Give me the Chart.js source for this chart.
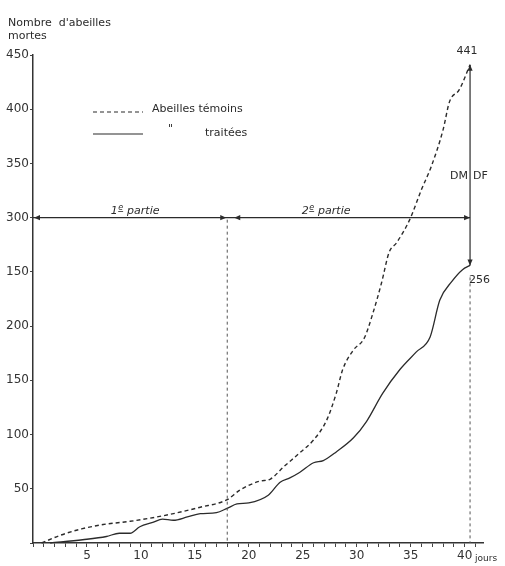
<!DOCTYPE html>
<html>
<head>
<meta charset="utf-8">
<script src="https://cdn.jsdelivr.net/npm/chart.js@4"></script>
<style>
  body { margin: 0; background: #fff; }
  canvas { display: block; }
</style>
</head>
<body>
<canvas id="chart" width="505" height="566"></canvas>
<script>
// --- données ---
const temoinsJours = [0.8, 2.5, 4.5, 6.5, 9, 12, 15.5, 18, 19.2, 21, 22, 23.2, 24.7, 26, 27.2, 28.1, 28.7, 29.7, 30.7, 31.5, 32.3, 33, 33.7, 34.9, 36, 36.9, 38, 38.6, 39.5, 40.5];
const temoinsMortes = [0, 7, 13, 17, 20, 25, 33, 40, 49, 57, 59, 70, 83, 95, 113, 138, 160, 178, 189, 212, 240, 268, 277, 298, 326, 347, 381, 407, 418, 441];

const traiteesJours = [1.6, 4.6, 6.8, 8, 9, 9.9, 11.1, 12, 13, 14.3, 15.5, 17, 18, 18.9, 20, 21.8, 22.9, 23.8, 24.7, 26, 26.9, 28.1, 29.7, 30.9, 32.4, 34, 35.5, 36.8, 37.7, 38.8, 39.8, 40.5];
const traiteesMortes = [0, 3, 6, 9, 9, 15, 19, 22, 21, 24, 27, 28, 32, 36, 37, 44, 56, 60, 65, 74, 76, 84, 97, 112, 138, 160, 176, 190, 224, 241, 252, 256];

// graduations (telles qu'imprimées, y compris le « 150 » à la place de 250)
const yTickLabels = ['', '50', '100', '150', '200', '150', '300', '350', '400', '450'];
const xLabelDays = [5, 10, 15, 20, 25, 30, 35, 40];

// repères du schéma
const partieNiveau = 300;
const partieJour = 18;
const finJour = 40.5;
const valeurTemoins = 441;
const valeurTraitees = 256;

const FONT = 'DejaVu Sans';
const INK = '#2b2b2b';

const toPoints = (xs, ys) => xs.map((x, i) => ({ x: x, y: ys[i] }));

function arrow(ctx, x, y, dir) {
    // petite pointe de flèche pleine, dir = angle en radians
    const len = 6, half = 2.6;
    ctx.save();
    ctx.translate(x, y);
    ctx.rotate(dir);
    ctx.beginPath();
    ctx.moveTo(0, 0);
    ctx.lineTo(-len, -half);
    ctx.lineTo(-len, half);
    ctx.closePath();
    ctx.fill();
    ctx.restore();
}

function ordinal(ctx, x, y, num, rest) {
    // « 1ᵉ partie » avec le e surélevé et souligné
    ctx.font = 'italic 11px ' + FONT;
    ctx.fillText(num, x, y);
    let w = ctx.measureText(num).width;
    ctx.font = 'italic 8px ' + FONT;
    ctx.fillText('e', x + w + 0.5, y - 4);
    const ew = ctx.measureText('e').width;
    ctx.fillRect(x + w + 0.5, y - 2.5, ew, 0.8);
    ctx.font = 'italic 11px ' + FONT;
    ctx.fillText(rest, x + w + ew + 1, y);
}

const annotations = {
    id: 'annotations',
    afterDatasetsDraw(chart) {
        const ctx = chart.ctx;
        const sx = chart.scales.x, sy = chart.scales.y;
        const area = chart.chartArea;
        const yP = sy.getPixelForValue(partieNiveau);
        const xS = sx.getPixelForValue(partieJour);
        const xE = sx.getPixelForValue(finJour);
        const yTop = sy.getPixelForValue(valeurTemoins);
        const yLow = sy.getPixelForValue(valeurTraitees);
        const y0 = sy.getPixelForValue(0);

        ctx.save();
        ctx.strokeStyle = INK;
        ctx.fillStyle = INK;

        // ligne 1re / 2e partie
        ctx.lineWidth = 1.2;
        ctx.beginPath();
        ctx.moveTo(area.left, yP);
        ctx.lineTo(xE, yP);
        ctx.stroke();
        arrow(ctx, area.left + 1, yP, Math.PI);
        arrow(ctx, xS - 1, yP, 0);
        arrow(ctx, xS + 7, yP, Math.PI);
        arrow(ctx, xE, yP, 0);

        // tirets verticaux jusqu'à l'axe
        ctx.lineWidth = 1;
        ctx.strokeStyle = '#555';
        ctx.setLineDash([3, 3]);
        ctx.beginPath();
        ctx.moveTo(xS, yP + 2);
        ctx.lineTo(xS, y0);
        ctx.moveTo(xE, yLow + 12);
        ctx.lineTo(xE, y0);
        ctx.stroke();
        ctx.setLineDash([]);

        // écart DM / DF
        ctx.strokeStyle = INK;
        ctx.lineWidth = 1.2;
        ctx.beginPath();
        ctx.moveTo(xE, yTop);
        ctx.lineTo(xE, yLow);
        ctx.stroke();
        arrow(ctx, xE, yTop, -Math.PI / 2);
        arrow(ctx, xE, yLow, Math.PI / 2);

        ctx.font = '11px ' + FONT;
        ctx.textBaseline = 'middle';
        ctx.textAlign = 'center';
        ctx.fillText(String(valeurTemoins), xE - 3, yTop - 14);
        ctx.textAlign = 'left';
        ctx.fillText(String(valeurTraitees), xE - 1, yLow + 15);
        const yD = sy.getPixelForValue(338);
        ctx.textAlign = 'right';
        ctx.fillText('DM', xE - 2, yD);
        ctx.textAlign = 'left';
        ctx.fillText('DF', xE + 3, yD);

        // libellés des parties
        ctx.textBaseline = 'alphabetic';
        ctx.textAlign = 'left';
        ordinal(ctx, sx.getPixelForValue(7.2), yP - 4, '1', ' partie');
        ordinal(ctx, sx.getPixelForValue(24.9), yP - 4, '2', ' partie');

        // légende
        ctx.lineWidth = 1.2;
        ctx.setLineDash([4, 3]);
        ctx.beginPath();
        ctx.moveTo(93, 112);
        ctx.lineTo(143, 112);
        ctx.stroke();
        ctx.setLineDash([]);
        ctx.beginPath();
        ctx.moveTo(93, 134);
        ctx.lineTo(143, 134);
        ctx.stroke();
        ctx.font = '11px ' + FONT;
        ctx.textBaseline = 'middle';
        ctx.fillText('Abeilles témoins', 152, 109);
        ctx.fillText('"', 168, 129);
        ctx.fillText('traitées', 205, 133);

        // titre de l'axe vertical
        ctx.fillText("Nombre  d'abeilles", 8, 23);
        ctx.fillText('mortes', 8, 36);

        // unité de l'axe horizontal
        ctx.font = '9px ' + FONT;
        ctx.fillText('jours', 475, 559);
        ctx.restore();
    }
};

new Chart(document.getElementById('chart'), {
    type: 'line',
    data: {
        datasets: [
            {
                label: 'Abeilles témoins',
                data: toPoints(temoinsJours, temoinsMortes),
                borderColor: INK, borderWidth: 1.4, borderDash: [4, 3],
                pointRadius: 0, cubicInterpolationMode: 'monotone', fill: false, clip: false
            },
            {
                label: 'Abeilles traitées',
                data: toPoints(traiteesJours, traiteesMortes),
                borderColor: INK, borderWidth: 1.3,
                pointRadius: 0, cubicInterpolationMode: 'monotone', fill: false, clip: false
            }
        ]
    },
    options: {
        responsive: false,
        animation: false,
        layout: { padding: { top: 55, right: 22, left: 0, bottom: 0 } },
        plugins: { legend: { display: false }, tooltip: { enabled: false } },
        scales: {
            x: {
                type: 'linear', min: 0, max: 41.7,
                afterFit: s => { s.height = 23; },
                border: { color: '#333', width: 1.5 },
                grid: { drawOnChartArea: false, tickLength: 4, color: '#444' },
                ticks: {
                    stepSize: 1, autoSkip: false, includeBounds: false, maxRotation: 0,
                    padding: 2, color: '#333', font: { family: FONT, size: 12 },
                    callback: v => xLabelDays.includes(v) ? String(v) : ''
                }
            },
            y: {
                min: 0, max: 450,
                afterFit: s => { s.width = 33; },
                border: { color: '#333', width: 1.5 },
                grid: { drawOnChartArea: false, tickLength: 3, color: '#444' },
                ticks: {
                    stepSize: 50, padding: 1, color: '#333', font: { family: FONT, size: 12 },
                    callback: v => yTickLabels[Math.round(v / 50)]
                }
            }
        }
    },
    plugins: [annotations]
});
</script>
</body>
</html>
